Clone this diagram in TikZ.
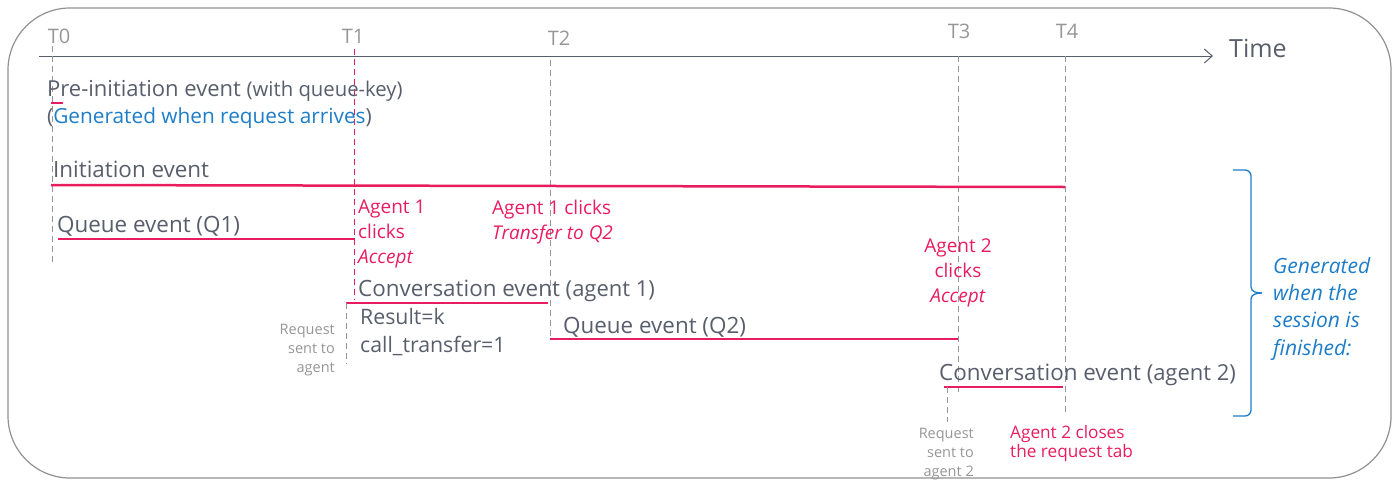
\documentclass[tikz,border=0pt]{standalone}
\usepackage{fontspec}
\setmainfont{Open Sans}
\usetikzlibrary{arrows.meta}
\definecolor{pinkc}{RGB}{232,28,94}
\definecolor{bluec}{RGB}{30,125,200}
\definecolor{darkc}{RGB}{88,94,108}
\definecolor{lightc}{RGB}{150,150,150}
\definecolor{framec}{RGB}{145,145,145}
\tikzset{
  lbl/.style={inner sep=0pt,anchor=base west,text=darkc,font=\fontsize{22.4}{22.4}\selectfont},
  tlbl/.style={inner sep=0pt,anchor=base,text=lightc,font=\fontsize{20}{20}\selectfont},
  note/.style={inner sep=0pt,text=pinkc,font=\fontsize{19}{25}\selectfont,align=left},
  small/.style={inner sep=0pt,text=lightc,font=\fontsize{14.5}{19}\selectfont,align=right},
  evline/.style={draw=pinkc,line width=2.5pt},
  tick/.style={draw=lightc,dash pattern=on 6pt off 4pt,line width=0.8pt},
  ptick/.style={draw=pinkc,dash pattern=on 6pt off 4pt,line width=1pt},
}
\begin{document}
\begin{tikzpicture}[x=1pt,y=-1pt]
\useasboundingbox (0,0) rectangle (1399,482);
\draw[framec,line width=1.2pt,rounded corners=62pt] (8,8) rectangle (1391,478);
% axis
\coordinate (ax0) at (39,56);
\node[inner sep=0pt,anchor=base west,text=darkc,font=\fontsize{25}{25}\selectfont] (time) at (1229,57) {Time};
\draw[darkc,line width=1pt,-{Straight Barb[length=8pt,width=14pt]}] (ax0) -- (1213,56);
% time labels
\node[tlbl] (t0) at (59,43) {T0};
\node[tlbl] (t1) at (353,43) {T1};
\node[tlbl] (t2) at (559,45) {T2};
\node[tlbl] (t3) at (959,38) {T3};
\node[tlbl] (t4) at (1067,38) {T4};
% coordinates of ticks
\coordinate (x0a) at (52,46); \coordinate (x0b) at (52,262);
\coordinate (x1a) at (354,49); \coordinate (x1b) at (354,300);
\coordinate (x2a) at (550,60); \coordinate (x2b) at (550,339);
\coordinate (x3a) at (958,56); \coordinate (x3b) at (958,392);
\coordinate (x4a) at (1065,56); \coordinate (x4b) at (1065,415);
\draw[tick] (x0a) -- (x0b);
\draw[ptick] (x1a) -- (x1b);
\draw[tick] (x2a) -- (x2b);
\draw[tick] (x3a) -- (x3b);
\draw[tick] (x4a) -- (x4b);
% pre-initiation
\node[lbl,font=\fontsize{22}{22}\selectfont] (pre) at (47,96) {Pre-initiation event {\fontsize{20.3}{20.3}\selectfont(with queue-key)}};
\coordinate (pm1) at (51,103); \coordinate (pm2) at (63,103);
\draw[pinkc,line width=2.5pt] (pm1) -- (pm2);
\node[lbl,font=\fontsize{20.8}{20.8}\selectfont] (gen) at (47,123) {(\textcolor{bluec}{Generated when request arrives})};
% initiation
\node[lbl] (init) at (53,177) {Initiation event};
\coordinate (i1) at (51,185); \coordinate (i2) at (1065,187);
\draw[evline] (i1) -- (i2);
% queue Q1
\node[lbl] (q1) at (57,232) {Queue event (Q1)};
\coordinate (q1a) at (58,239); \coordinate (q1b) at (355,239);
\draw[evline] (q1a) -- (q1b);
% agent 1 accept
\node[note,anchor=north west] (a1) at (358,200) {Agent 1\\clicks\\\textit{Accept}};
\node[note,anchor=north west] (a1t) at (492,200) {Agent 1 clicks\\\textit{Transfer to Q2}};
% conversation 1
\node[lbl] (c1) at (358,296) {Conversation event {\fontsize{22}{22}\selectfont(agent 1)}};
\coordinate (c1a) at (346,303); \coordinate (c1b) at (548,303);
\draw[evline] (c1a) -- (c1b);
\node[lbl,font=\fontsize{21.3}{21.3}\selectfont] (res) at (360,324) {Result=k};
\node[lbl,font=\fontsize{21.3}{21.3}\selectfont] (ct) at (360,352) {call\_transfer=1};
\coordinate (r1a) at (346,303); \coordinate (r1b) at (346,364);
\draw[tick] (r1a) -- (r1b);
\node[small,anchor=north east] (req1) at (335,324) {Request\\sent to\\agent};
% queue Q2
\node[lbl] (q2) at (563,333) {Queue event (Q2)};
\coordinate (q2a) at (550,339); \coordinate (q2b) at (958,339);
\draw[evline] (q2a) -- (q2b);
% agent 2 accept
\node[note,align=center,anchor=north] (a2) at (958,239) {Agent 2\\clicks\\\textit{Accept}};
% conversation 2
\node[lbl] (c2) at (939,380) {Conversation event {\fontsize{22}{22}\selectfont(agent 2)}};
\coordinate (c2a) at (944,387); \coordinate (c2b) at (1063,387);
\draw[evline] (c2a) -- (c2b);
\coordinate (r2a) at (947,387); \coordinate (r2b) at (947,422);
\draw[tick] (r2a) -- (r2b);
\node[small,anchor=north east] (req2) at (974,428) {Request\\sent to\\agent 2};
\node[note,font=\fontsize{17.2}{19}\selectfont,anchor=north west] (close) at (1010,425) {Agent 2 closes\\the request tab};
% brace
\coordinate (b1) at (1233,170); \coordinate (b2) at (1233,416);
\coordinate (bt) at (1262,293);
\draw[bluec,line width=1.3pt] (b1) -- (1245,170) to[out=0,in=90] (1251,176) -- (1251,287)
  to[out=-90,in=180] (bt);
\draw[bluec,line width=1.3pt] (bt) to[out=180,in=90] (1251,299) -- (1251,410)
  to[out=-90,in=0] (1245,416) -- (b2);
\node[inner sep=0pt,anchor=north west,text=bluec,font=\fontsize{21}{27.3}\selectfont\itshape,align=left] (fin) at (1273,257) {Generated\\when the\\session is\\finished:};
\end{tikzpicture}
\end{document}
